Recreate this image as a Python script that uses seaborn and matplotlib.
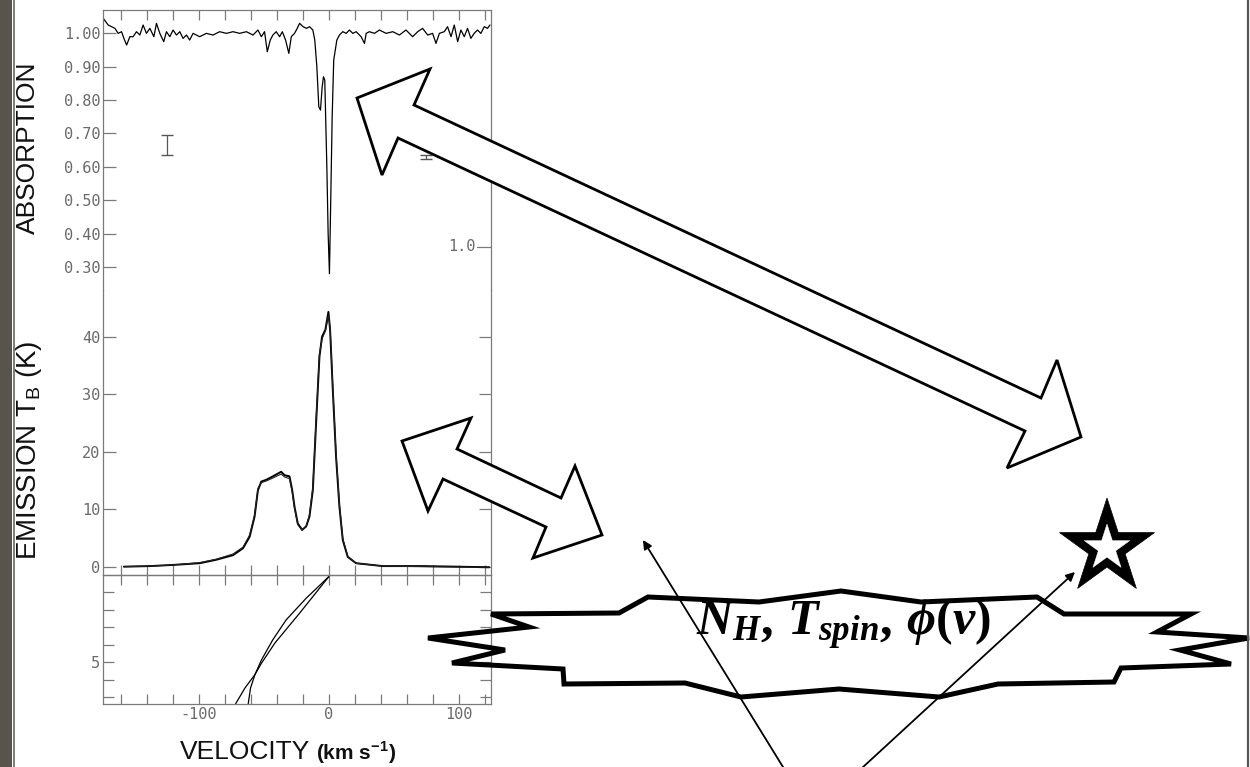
import seaborn as sns
import matplotlib.pyplot as plt
import numpy as np
import pandas as pd
from matplotlib.patches import Polygon, Rectangle
from matplotlib.path import Path
import matplotlib.transforms as mtransforms

# ---- data ----
# absorption spectrum: velocity (km/s) and line-to-continuum ratio
abs_vel = [-173.8, -170.0, -164.8, -162.3, -159.7, -157.9, -155.8, -153.3, -150.8, -148.2,
           -145.6, -143.1, -140.5, -137.9, -134.8, -132.8, -130.2, -127.2, -125.1, -122.5,
           -120.0, -117.4, -114.8, -112.3, -109.7, -107.2, -104.6, -99.5, -94.3, -89.2,
           -84.1, -78.9, -73.8, -68.7, -63.5, -58.4, -54.6, -52.0, -49.5, -47.4,
           -45.1, -43.1, -40.5, -37.9, -35.8, -33.3, -30.8, -28.9, -26.4, -24.3,
           -22.5, -19.8, -17.2, -14.8, -12.3, -10.8, -9.2, -7.7, -6.4, -5.1,
           -4.1, -3.1, -1.5, -0.5, 0.5, 1.5, 2.6, 3.8, 6.2, 8.2,
           10.8, 13.4, 15.9, 18.5, 21.1, 24.9, 27.5, 28.8, 31.3, 35.2,
           39.0, 44.2, 49.3, 54.4, 59.5, 64.6, 68.5, 72.3, 76.2, 80.0,
           82.6, 85.2, 89.0, 91.5, 94.2, 96.7, 99.3, 101.8, 104.4, 106.9,
           109.5, 112.0, 114.6, 117.2, 119.8, 122.3, 124.2]
abs_val = [1.045, 1.025, 1.015, 1.000, 1.005, 0.985, 0.965, 0.990, 0.990, 1.005,
           0.995, 1.025, 1.000, 1.015, 0.990, 1.030, 1.000, 0.975, 1.005, 0.990,
           1.010, 0.995, 1.005, 0.985, 0.995, 0.980, 1.000, 0.990, 1.000, 0.995,
           1.005, 1.000, 1.005, 1.000, 1.005, 0.995, 1.010, 0.990, 1.005, 0.945,
           0.980, 0.995, 1.005, 0.990, 1.005, 0.980, 0.940, 0.990, 1.000, 1.015,
           1.030, 1.020, 1.015, 1.020, 1.010, 0.980, 0.900, 0.780, 0.770, 0.840,
           0.870, 0.860, 0.600, 0.400, 0.280, 0.500, 0.750, 0.920, 0.980, 0.995,
           1.005, 1.000, 1.010, 1.000, 1.005, 0.990, 0.970, 1.000, 1.005, 1.000,
           1.010, 1.000, 1.005, 0.995, 1.010, 0.990, 1.005, 1.015, 0.995, 1.000,
           0.970, 1.000, 1.005, 1.020, 0.990, 1.025, 0.975, 1.010, 0.990, 1.015,
           0.985, 1.000, 1.010, 1.000, 1.020, 1.015, 1.025]

# emission spectrum: brightness temperature (K), observed and fitted
em_vel = [-157.9, -137.9, -120.0, -99.5, -86.7, -73.8, -66.1, -61.0, -57.2, -54.6,
          -52.0, -48.2, -43.1, -36.7, -34.1, -30.3, -28.2, -26.4, -23.9, -20.5,
          -17.4, -14.9, -12.3, -9.8, -7.2, -5.2, -2.6, -0.3, 1.0, 3.1,
          5.6, 8.2, 10.8, 14.6, 21.0, 41.5, 72.3, 123.6]
em_obs = [0.0, 0.1, 0.3, 0.6, 1.2, 2.0, 3.2, 5.2, 8.7, 13.3,
          14.8, 15.1, 15.7, 16.5, 15.9, 15.7, 13.3, 10.4, 7.5, 6.4,
          7.0, 8.7, 13.3, 24.9, 36.5, 40.0, 41.2, 44.3, 41.2, 30.7,
          19.1, 10.4, 4.6, 1.7, 0.6, 0.1, 0.1, -0.1]
em_fit = [0.0, 0.1, 0.3, 0.7, 1.3, 2.2, 3.4, 5.5, 9.0, 13.6,
          14.6, 14.9, 15.4, 16.1, 15.6, 15.3, 13.0, 10.1, 7.3, 6.3,
          7.1, 9.0, 13.8, 25.5, 37.0, 39.6, 41.0, 43.6, 41.6, 31.2,
          19.6, 10.8, 4.9, 1.8, 0.6, 0.1, 0.0, -0.1]

# lower panel: distance versus velocity, two curves
dist_a = [0.095, 2.19, 3.90, 5.05, 5.71, 6.48, 7.39]
vel_a = [0.0, -22.5, -41.5, -51.8, -56.9, -64.6, -71.8]
dist_b = [0.095, 1.33, 2.57, 3.71, 4.86, 5.71, 6.48, 7.39]
vel_b = [0.0, -17.4, -32.8, -43.1, -51.8, -56.9, -60.3, -62.1]

# error bars drawn in the absorption panel
err_vel = [-125.0, 75.0]
err_val = [0.666, 0.630]
err_half = [0.030, 0.006]

vel_ticks = list(range(-160, 121, 20))
vel_labels = ['-100' if t == -100 else '0' if t == 0 else '100' if t == 100 else '' for t in vel_ticks]
abs_ticks = [0.30, 0.40, 0.50, 0.60, 0.70, 0.80, 0.90, 1.00]
abs_labels = ['%.2f' % t for t in abs_ticks]
em_ticks = [0, 10, 20, 30, 40]
dist_ticks = [1, 2, 3, 4, 5, 6, 7]
dist_labels = ['5' if t == 5 else '' for t in dist_ticks]

# ---- figure ----
sns.set_theme(style='white')
plt.rcParams['font.family'] = ['Liberation Sans', 'DejaVu Sans']
plt.rcParams['mathtext.rm'] = 'Liberation Serif:bold'
plt.rcParams['mathtext.it'] = 'Liberation Serif:italic:bold'
plt.rcParams['mathtext.bf'] = 'Liberation Serif:bold'

fig = plt.figure(figsize=(12.5, 7.67), dpi=100)
fig.patch.set_facecolor('white')

W, H = 1250, 767
left, right = 103, 491
def px_axes(top, bottom):
    return fig.add_axes([left / W, 1 - bottom / H, (right - left) / W, (bottom - top) / H])

ax_abs = px_axes(10, 290)
ax_em = px_axes(290, 575)
ax_d = px_axes(575, 704)

spine_col = '#7a7a7a'
tick_font = dict(family='DejaVu Sans Mono', size=11, color='#6a6a6a')

for ax in (ax_abs, ax_em, ax_d):
    ax.set_facecolor('none')
    ax.set_xlim(-174, 125)
    for s in ax.spines.values():
        s.set_color(spine_col)
        s.set_linewidth(0.9)
    ax.tick_params(direction='in', color=spine_col, width=0.9, pad=2)

# absorption
df_abs = pd.DataFrame({'v': abs_vel, 'a': abs_val})
sns.lineplot(data=df_abs, x='v', y='a', ax=ax_abs, color='black', lw=0.9, sort=False, estimator=None)
ax_abs.errorbar(err_vel, err_val, yerr=err_half, fmt='none', ecolor='#555555', elinewidth=0.9, capsize=4)
ax_abs.set_ylim(0.231, 1.07)
ax_abs.spines['bottom'].set_visible(False)
ax_abs.set_yticks(abs_ticks)
ax_abs.set_yticklabels(abs_labels, **tick_font)
ax_abs.set_xticks(vel_ticks)
ax_abs.tick_params(axis='x', top=True, bottom=False, labelbottom=False, length=7)
ax_abs.tick_params(axis='y', left=True, right=False, length=9)
blend = mtransforms.blended_transform_factory(ax_abs.transAxes, ax_abs.transData)
ax_abs.plot([0.965, 1.0], [0.361, 0.361], color=spine_col, lw=0.9, transform=blend)
ax_abs.text(0.96, 0.361, '1.0', ha='right', va='center', transform=blend, **tick_font)
ax_abs.set_xlabel('')
ax_abs.set_ylabel('')

# emission
df_em = pd.DataFrame({'v': em_vel, 'obs': em_obs, 'fit': em_fit})
sns.lineplot(data=df_em, x='v', y='obs', ax=ax_em, color='black', lw=1.4, sort=False, estimator=None)
sns.lineplot(data=df_em, x='v', y='fit', ax=ax_em, color='#222222', lw=0.8, sort=False, estimator=None)
ax_em.set_ylim(-1.45, 48.1)
ax_em.spines['top'].set_visible(False)
ax_em.set_yticks(em_ticks)
ax_em.set_yticklabels([str(t) for t in em_ticks], **tick_font)
ax_em.set_xticks(vel_ticks)
ax_em.tick_params(axis='x', top=False, bottom=True, labelbottom=False, length=7)
ax_em.tick_params(axis='y', left=True, right=True, length=9)
ax_em.set_xlabel('')
ax_em.set_ylabel('')

# distance panel
df_a = pd.DataFrame({'v': vel_a, 'd': dist_a})
df_b = pd.DataFrame({'v': vel_b, 'd': dist_b})
sns.lineplot(data=df_a, x='v', y='d', ax=ax_d, color='black', lw=0.9, sort=False, estimator=None)
sns.lineplot(data=df_b, x='v', y='d', ax=ax_d, color='black', lw=0.9, sort=False, estimator=None)
ax_d.set_ylim(7.4, 0)
ax_d.set_yticks(dist_ticks)
ax_d.set_yticklabels(dist_labels, **tick_font)
ax_d.set_xticks(vel_ticks)
ax_d.set_xticklabels(vel_labels, **tick_font)
ax_d.tick_params(axis='x', top=True, bottom=True, length=7)
ax_d.tick_params(axis='y', left=True, right=True, length=8)
ax_d.set_xlabel('')
ax_d.set_ylabel('')

# ---- overlay in pixel coordinates ----
ov = fig.add_axes([0, 0, 1, 1])
ov.set_xlim(0, W)
ov.set_ylim(H, 0)
ov.axis('off')
ov.patch.set_alpha(0)

# slide border
ov.add_patch(Rectangle((0, 0), 12, H, color='#58534d', lw=0))
ov.plot([14, 14], [0, H], color='#6a655f', lw=1.2)
ov.plot([1248, 1248], [0, H], color='#555555', lw=1.6)

# axis titles
ov.text(28, 148, 'ABSORPTION', rotation=90, ha='center', va='center', fontsize=19, color='#111111')
ov.text(29, 450, r'EMISSION T$_\mathregular{B}$ (K)', rotation=90, ha='center', va='center',
        fontsize=20, color='#111111')
ov.text(180, 752, 'VELOCITY', ha='left', va='center', fontsize=19, color='#111111')
ov.text(316, 753, r'(km s$^{\mathregular{-1}}$)', ha='left', va='center', fontsize=15,
        fontweight='bold', color='#111111')

big_arrow = [(357, 98), (430, 69), (414, 105), (1041, 398), (1057, 360), (1081, 437),
             (1007, 468), (1025, 431), (398, 138), (382, 175)]
small_arrow = [(402, 441), (471, 418), (457, 449), (561, 498), (575, 466), (602, 535),
               (533, 558), (546, 527), (443, 479), (428, 511)]
for pts in (big_arrow, small_arrow):
    ov.add_patch(Polygon(pts, closed=True, facecolor='white', edgecolor='black', lw=2.0,
                         joinstyle='miter'))

cloud = [(491, 614), (529, 627), (428, 638), (505, 650), (452, 663), (563, 669), (564, 684),
         (685, 683), (741, 697), (839, 689), (939, 697), (998, 684), (1114, 682), (1121, 668),
         (1231, 664), (1180, 650), (1249, 638), (1157, 632), (1191, 614), (1064, 614),
         (1037, 597), (921, 602), (841, 591), (759, 602), (648, 597), (619, 613)]
ov.add_patch(Polygon(cloud, closed=True, facecolor='none', edgecolor='black', lw=3.6,
                     joinstyle='miter'))

ov.text(843, 624, r'$N_H,\,T_{spin},\,\phi(\nu)$', ha='center', va='center', fontsize=36,
        math_fontfamily='custom', color='black')

# star
star = Path.unit_regular_star(5, 0.382)
def star_pts(cx, cy, r):
    v = star.vertices[:-1]
    return [(cx + r * x, cy - r * y) for x, y in v]
ov.add_patch(Polygon(star_pts(1107, 548, 50), closed=True, facecolor='black', edgecolor='black', lw=0.5))
ov.add_patch(Polygon(star_pts(1107, 548, 24), closed=True, facecolor='white', edgecolor='white', lw=0.3))

# sight lines
src = (812, 814)
for tip in [(643, 540), (1075, 572)]:
    ov.annotate('', xy=tip, xytext=src, xycoords='data', textcoords='data',
                arrowprops=dict(arrowstyle='-|>', lw=1.3, color='black', mutation_scale=13,
                                shrinkA=0, shrinkB=0), annotation_clip=False)

fig.savefig('out.png', dpi=100)
